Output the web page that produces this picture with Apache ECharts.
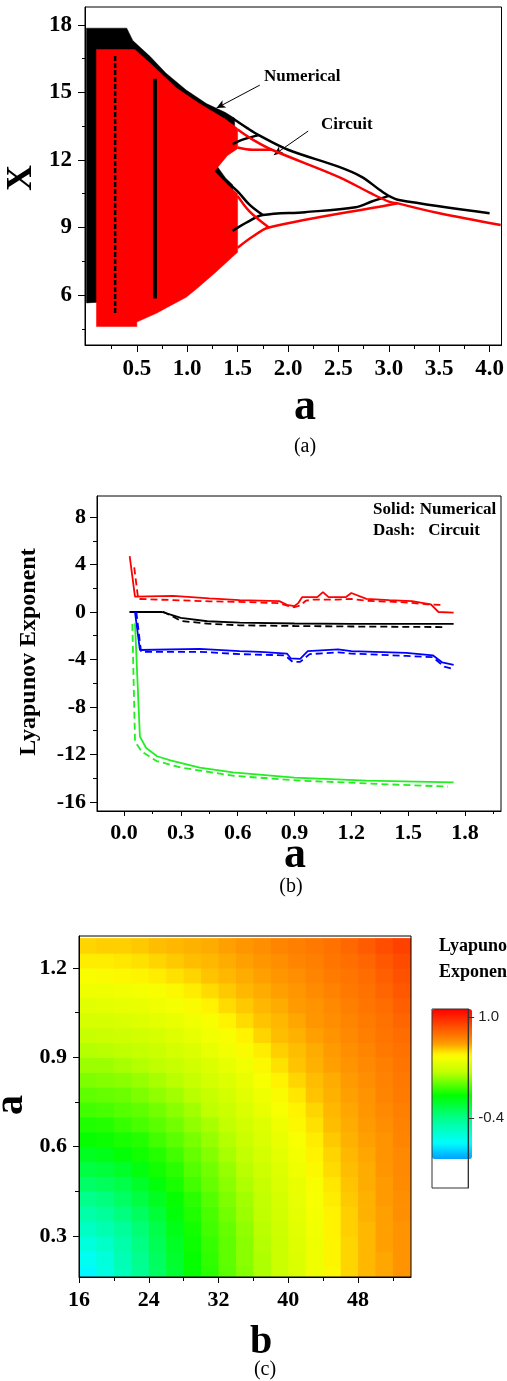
<!DOCTYPE html>
<html>
<head>
<meta charset="utf-8">
<title>Bifurcation, Lyapunov exponents and Lyapunov map</title>
<script src="https://cdn.jsdelivr.net/npm/echarts@6/dist/echarts.min.js"></script>
<style>
  html, body { margin: 0; padding: 0; background: #ffffff; }
  #chart { width: 507px; height: 1381px; }
</style>
</head>
<body>
<div id="chart"></div>
<script>
// ================= (a) bifurcation diagram: x versus a =================
// outline of the chaotic band, numerical system: [a, x]
const numBand = [
  [0.00, 17.85], [0.40, 17.85], [0.46, 17.3], [0.63, 16.6], [0.79, 15.85], [0.99, 15.1],
  [1.19, 14.5], [1.38, 14.1], [1.47, 13.85],
  [1.47, 12.8], [1.40, 12.3], [1.30, 11.7], [1.38, 11.2], [1.45, 10.9],
  [1.45, 8.85], [1.38, 8.3], [1.19, 7.6], [0.99, 7.0], [0.79, 6.5], [0.63, 6.0], [0.40, 5.75], [0.00, 5.65]
];
// outline of the chaotic band, circuit: [a, x]
const cirBand = [
  [0.10, 16.9], [0.48, 16.9], [0.63, 16.3], [0.89, 15.2], [1.12, 14.5], [1.38, 13.8], [1.50, 13.4],
  [1.50, 12.5], [1.40, 12.2], [1.27, 11.5], [1.40, 10.9], [1.50, 10.5],
  [1.50, 7.9], [1.45, 7.7], [1.28, 7.0], [1.10, 6.3], [0.99, 5.9], [0.80, 5.45], [0.70, 5.2],
  [0.60, 5.0], [0.50, 4.8], [0.50, 4.6], [0.10, 4.6]
];
// periodic windows inside the chaotic band (numerical)
const numWindowA = [[0.68, 5.85], [0.68, 15.6]];
const numWindowB = [[0.285, 5.2], [0.285, 16.7]];
// periodic branches, numerical
const numUpper = [[1.45, 13.85], [1.60, 13.4], [1.71, 13.1], [2.00, 12.45], [2.50, 11.7], [2.73, 11.25], [2.90, 10.7], [3.00, 10.4]];
const numUpperInner = [[1.45, 12.7], [1.55, 12.9], [1.71, 13.1]];
const numLower = [[1.45, 8.85], [1.60, 9.25], [1.75, 9.55], [2.17, 9.68], [2.67, 9.9], [2.83, 10.15], [3.00, 10.4]];
const numLowerInner = [[1.40, 11.0], [1.50, 10.6], [1.62, 10.0], [1.75, 9.55]];
const numSingle = [[3.00, 10.4], [3.10, 10.22], [4.00, 9.63]];
// periodic branches, circuit
const cirUpper = [[1.50, 13.35], [1.65, 12.9], [1.84, 12.45], [2.50, 11.25], [2.83, 10.5], [3.00, 10.15], [3.09, 10.07]];
const cirUpperInner = [[1.50, 12.55], [1.65, 12.45], [1.84, 12.45]];
const cirLower = [[1.50, 8.1], [1.65, 8.6], [1.81, 9.0], [3.00, 10.0], [3.09, 10.07]];
const cirLowerInner = [[1.50, 10.4], [1.62, 9.7], [1.81, 9.0]];
const cirSingle = [[3.09, 10.07], [3.49, 9.64], [4.11, 9.11]];
// annotation arrows: [from, to] in [a, x]
const arrowNumerical = [[1.72, 15.32], [1.29, 14.30]];
const arrowCircuit = [[2.20, 13.28], [1.86, 12.22]];
// ticks
const aTicksA = [0.5, 1.0, 1.5, 2.0, 2.5, 3.0, 3.5, 4.0];
const aMinorA = [0.25, 0.75, 1.25, 1.75, 2.25, 2.75, 3.25, 3.75];
const xTicksA = [6, 9, 12, 15, 18];
const xMinorA = [4.5, 7.5, 10.5, 13.5, 16.5];

// ================= (b) Lyapunov exponents versus a =================
const numLE1 = [[0.03, 4.7], [0.058, 1.3], [0.26, 1.35], [0.45, 1.15], [0.61, 1.0], [0.82, 0.92], [0.86, 0.6], [0.90, 0.5], [0.92, 0.75], [0.94, 1.25], [1.02, 1.25], [1.05, 1.68], [1.08, 1.25], [1.17, 1.25], [1.20, 1.6], [1.28, 1.1], [1.40, 1.0], [1.52, 0.92], [1.62, 0.65], [1.66, 0.0], [1.74, -0.05]];
const cirLE1 = [[0.054, 3.75], [0.075, 1.1], [0.26, 1.0], [0.45, 0.9], [0.61, 0.85], [0.82, 0.75], [0.87, 0.5], [0.90, 0.4], [0.93, 0.55], [0.96, 0.95], [1.00, 1.05], [1.13, 1.05], [1.20, 1.1], [1.28, 0.95], [1.50, 0.8], [1.60, 0.65], [1.67, 0.6]];
const numLE2 = [[0.03, 0], [0.20, 0], [0.25, -0.25], [0.30, -0.5], [0.44, -0.78], [0.61, -0.9], [0.90, -0.97], [1.20, -1.0], [1.74, -1.0]];
const cirLE2 = [[0.03, 0], [0.21, 0], [0.26, -0.4], [0.30, -0.75], [0.44, -0.98], [0.61, -1.12], [0.90, -1.18], [1.20, -1.22], [1.70, -1.27]];
const numLE3 = [[0.058, 0], [0.084, -3.2], [0.40, -3.1], [0.61, -3.3], [0.72, -3.35], [0.86, -3.5], [0.88, -3.9], [0.93, -3.95], [0.97, -3.3], [1.13, -3.15], [1.20, -3.3], [1.49, -3.45], [1.63, -3.65], [1.68, -4.25], [1.74, -4.45]];
const cirLE3 = [[0.065, 0], [0.09, -3.35], [0.40, -3.35], [0.61, -3.55], [0.85, -3.65], [0.89, -4.2], [0.93, -4.2], [0.98, -3.55], [1.13, -3.4], [1.20, -3.5], [1.49, -3.7], [1.63, -3.8], [1.69, -4.6], [1.74, -4.8]];
const numLE4 = [[0.058, -0.95], [0.084, -10.5], [0.117, -11.45], [0.175, -12.15], [0.245, -12.5], [0.40, -13.1], [0.575, -13.5], [0.90, -13.95], [1.28, -14.2], [1.74, -14.35]];
const cirLE4 = [[0.044, -1.0], [0.058, -10.9], [0.093, -11.75], [0.172, -12.55], [0.30, -13.1], [0.58, -13.8], [0.93, -14.2], [1.45, -14.55], [1.71, -14.7]];
const aTicksB = [0.0, 0.3, 0.6, 0.9, 1.2, 1.5, 1.8];
const aMinorB = [0.15, 0.45, 0.75, 1.05, 1.35, 1.65, 1.95];
const leTicksB = [-16, -12, -8, -4, 0, 4, 8];
const leMinorB = [-14, -10, -6, -2, 2, 6];

// ================= (c) largest Lyapunov exponent over (b, a) =================
const bCenters = [17, 19, 21, 23, 25, 27, 29, 31, 33, 35, 37, 39, 41, 43, 45, 47, 49, 51, 53];
const aCenters = [0.175, 0.225, 0.275, 0.325, 0.375, 0.425, 0.475, 0.525, 0.575, 0.625, 0.675, 0.725,
                  0.775, 0.825, 0.875, 0.925, 0.975, 1.025, 1.075, 1.125, 1.175, 1.225, 1.275];
// one row per a value (bottom to top), one entry per b value (left to right)
const lyapRows = [
  [-0.74,-0.64,-0.53,-0.41,-0.30,-0.19,-0.07,-0.01,0.07,0.14,0.21,0.28,0.34,0.41,0.47,0.54,0.59,0.62,0.66],
  [-0.69,-0.62,-0.51,-0.40,-0.29,-0.18,-0.07,0.00,0.08,0.15,0.21,0.28,0.34,0.41,0.48,0.54,0.59,0.62,0.66],
  [-0.63,-0.57,-0.48,-0.37,-0.27,-0.16,-0.06,0.01,0.08,0.15,0.22,0.28,0.35,0.41,0.48,0.54,0.59,0.63,0.66],
  [-0.55,-0.50,-0.43,-0.34,-0.24,-0.13,-0.05,0.03,0.09,0.16,0.23,0.29,0.36,0.42,0.49,0.55,0.59,0.63,0.66],
  [-0.47,-0.43,-0.36,-0.29,-0.20,-0.10,-0.03,0.04,0.11,0.18,0.24,0.30,0.37,0.43,0.49,0.55,0.60,0.63,0.67],
  [-0.39,-0.36,-0.30,-0.23,-0.15,-0.07,-0.01,0.06,0.13,0.19,0.25,0.31,0.38,0.44,0.50,0.56,0.60,0.64,0.67],
  [-0.31,-0.28,-0.24,-0.17,-0.10,-0.04,0.03,0.09,0.15,0.21,0.27,0.33,0.39,0.45,0.51,0.57,0.61,0.64,0.68],
  [-0.23,-0.21,-0.17,-0.11,-0.05,-0.01,0.06,0.11,0.17,0.23,0.29,0.35,0.41,0.47,0.53,0.58,0.61,0.65,0.69],
  [-0.15,-0.13,-0.09,-0.05,-0.02,0.03,0.09,0.14,0.20,0.25,0.31,0.37,0.43,0.49,0.54,0.59,0.62,0.66,0.69],
  [-0.07,-0.06,-0.04,-0.02,0.03,0.07,0.12,0.17,0.22,0.28,0.33,0.39,0.44,0.50,0.56,0.60,0.63,0.66,0.70],
  [-0.03,-0.02,0.01,0.04,0.07,0.11,0.16,0.20,0.25,0.30,0.35,0.41,0.47,0.52,0.58,0.61,0.64,0.67,0.71],
  [0.03,0.04,0.06,0.08,0.11,0.15,0.19,0.24,0.28,0.33,0.39,0.44,0.49,0.54,0.59,0.62,0.65,0.69,0.72],
  [0.08,0.09,0.10,0.13,0.16,0.19,0.23,0.27,0.31,0.36,0.41,0.46,0.51,0.57,0.60,0.63,0.66,0.70,0.73],
  [0.13,0.14,0.15,0.17,0.20,0.23,0.27,0.31,0.35,0.39,0.44,0.49,0.54,0.58,0.61,0.64,0.67,0.71,0.74],
  [0.18,0.18,0.20,0.22,0.24,0.27,0.30,0.34,0.38,0.42,0.47,0.52,0.57,0.60,0.63,0.66,0.69,0.72,0.75],
  [0.22,0.23,0.24,0.26,0.28,0.31,0.34,0.38,0.42,0.46,0.50,0.55,0.58,0.61,0.64,0.67,0.70,0.74,0.76],
  [0.27,0.28,0.29,0.30,0.32,0.35,0.38,0.42,0.45,0.49,0.54,0.58,0.60,0.63,0.66,0.69,0.72,0.75,0.78],
  [0.32,0.32,0.33,0.35,0.37,0.39,0.42,0.45,0.49,0.53,0.57,0.59,0.62,0.65,0.67,0.70,0.73,0.76,0.80],
  [0.36,0.37,0.38,0.39,0.41,0.43,0.46,0.49,0.53,0.56,0.59,0.61,0.64,0.66,0.69,0.72,0.75,0.78,0.82],
  [0.41,0.41,0.42,0.43,0.45,0.47,0.50,0.53,0.56,0.59,0.61,0.63,0.65,0.68,0.71,0.74,0.76,0.80,0.84],
  [0.45,0.46,0.47,0.48,0.50,0.52,0.54,0.57,0.59,0.61,0.63,0.65,0.67,0.70,0.73,0.75,0.78,0.82,0.86],
  [0.50,0.50,0.51,0.52,0.54,0.56,0.58,0.59,0.61,0.63,0.65,0.67,0.70,0.72,0.75,0.77,0.80,0.84,0.88],
  [0.54,0.55,0.55,0.56,0.58,0.59,0.60,0.61,0.63,0.65,0.67,0.70,0.72,0.74,0.76,0.79,0.83,0.87,0.91]
];
const bTicksC = [16, 24, 32, 40, 48];
const bMinorC = [20, 28, 36, 44, 52];
const aTicksC = [0.3, 0.6, 0.9, 1.2];
const aMinorC = [0.45, 0.75, 1.05];
const colorbarTicks = [1.0, -0.4];
// colour scale of the map: [exponent, colour]
const colorStops = [[-0.95, '#00a0ff'], [-0.73, '#00ffff'], [-0.40, '#00ff90'], [-0.08, '#00ff00'],
                    [0.24, '#c0ff00'], [0.47, '#ffff00'], [0.64, '#ff9900'], [1.11, '#ff0000']];

// ================= chart =================
const SERIF = "'Liberation Serif', 'Times New Roman', serif";
const SANS = "'Liberation Sans', Arial, sans-serif";

function hexToRgb(h) { return [1, 3, 5].map(i => parseInt(h.slice(i, i + 2), 16)); }
function colorAt(v) {
  const s = colorStops;
  if (v <= s[0][0]) return s[0][1];
  for (let i = 1; i < s.length; i++) {
    if (v <= s[i][0]) {
      const t = (v - s[i - 1][0]) / (s[i][0] - s[i - 1][0]);
      const c0 = hexToRgb(s[i - 1][1]), c1 = hexToRgb(s[i][1]);
      const c = c0.map((x, k) => Math.round(x + (c1[k] - x) * t));
      return `rgb(${c[0]},${c[1]},${c[2]})`;
    }
  }
  return s[s.length - 1][1];
}
const vMin = colorStops[0][0], vMax = colorStops[colorStops.length - 1][0];
// evenly spaced colour ramp for the visual map
const rampColors = [];
for (let i = 0; i <= 40; i++) rampColors.push(colorAt(vMin + (vMax - vMin) * i / 40));

function axisPair(dim, grid, min, max, major, minor, fmt, margin, fontSize, majorLen, minorLen) {
  const pos = dim === 'x' ? 'bottom' : 'left';
  return [
    { type: 'value', gridIndex: grid, min, max, position: pos, z: 10,
      axisLine: { show: true, onZero: false, lineStyle: { color: '#000', width: 1 } },
      axisTick: { show: true, length: majorLen, customValues: major, lineStyle: { color: '#000', width: 1 } },
      axisLabel: { show: true, customValues: major, formatter: fmt, margin,
                   fontFamily: SERIF, fontWeight: 'bold', fontSize, color: '#000' },
      splitLine: { show: false } },
    { type: 'value', gridIndex: grid, min, max, position: pos, z: 10,
      axisLine: { show: false, onZero: false },
      axisTick: { show: true, length: minorLen, customValues: minor, lineStyle: { color: '#000', width: 1 } },
      axisLabel: { show: false }, splitLine: { show: false } }
  ];
}

const fix1 = v => Number(v).toFixed(1);
const int0 = v => String(Math.round(v));

const xAxes = [
  ...axisPair('x', 0, -0.014, 4.118, aTicksA, aMinorA, fix1, 13, 23, 7, 4),
  ...axisPair('x', 1, -0.1425, 1.990, aTicksB, aMinorB, fix1, 11, 22, 5, 3),
  ...axisPair('x', 2, 16, 54.07, bTicksC, bMinorC, int0, 12, 22, 6, 4),
  { type: 'value', gridIndex: 3, min: 0, max: 1, show: false }
];
const yAxes = [
  ...axisPair('y', 0, 3.78, 18.79, xTicksA, xMinorA, int0, 13, 23, 7, 3),
  ...axisPair('y', 1, -16.76, 9.77, leTicksB, leMinorB, int0, 11, 22, 7, 4),
  ...axisPair('y', 2, 0.162, 1.307, aTicksC, aMinorC, fix1, 12, 22, 6, 4),
  { type: 'value', gridIndex: 3, min: -1.37, max: 1.11, position: 'right', z: 10,
    axisLine: { show: true, onZero: false, lineStyle: { color: '#333', width: 1 } },
    axisTick: { show: true, length: 6, customValues: colorbarTicks, lineStyle: { color: '#333', width: 1 } },
    axisLabel: { show: true, customValues: colorbarTicks, formatter: fix1, margin: 10,
                 fontFamily: SANS, fontSize: 15, color: '#222' },
    splitLine: { show: false } }
];

const gridBox = { show: true, borderColor: '#000', borderWidth: 1, backgroundColor: 'rgba(0,0,0,0)', z: 10 };
const grids = [
  { ...gridBox, left: 85, top: 7, width: 419, height: 338 },
  { ...gridBox, left: 97, top: 496, width: 404, height: 315 },
  { ...gridBox, left: 79, top: 936, width: 332, height: 341 },
  { ...gridBox, left: 432, top: 1009, width: 40, height: 179, borderColor: '#333' }
];

const series = [];

// filled chaotic band drawn from its outline
function bandSeries(outline, color, z) {
  return {
    type: 'custom', xAxisIndex: 0, yAxisIndex: 0, z, silent: true,
    data: outline, encode: { x: 0, y: 1 },
    renderItem(params, api) {
      if (params.dataIndex !== 0) return null;
      return { type: 'polygon', shape: { points: outline.map(p => api.coord(p)) },
               style: { fill: color, stroke: color, lineWidth: 0.5 } };
    }
  };
}
function pathSeries(data, axis, color, width, dash, z, smooth) {
  return {
    type: 'line', xAxisIndex: axis, yAxisIndex: axis, data, z, silent: true,
    showSymbol: false, symbol: 'none', smooth: smooth || false, clip: true,
    lineStyle: { color, width, type: dash || 'solid', cap: 'butt' }
  };
}

// (a)
series.push(bandSeries(numBand, '#000000', 2));
series.push(bandSeries(cirBand, '#ff0000', 3));
series.push(pathSeries(numWindowA, 0, '#000000', 4, 'solid', 4));
series.push(pathSeries(numWindowB, 0, '#000000', 2.5, [5, 2], 4));
[numUpper, numUpperInner, numLower, numLowerInner, numSingle].forEach(d =>
  series.push(pathSeries(d, 0, '#000000', 2.5, 'solid', 5, 0.35)));
[cirUpper, cirUpperInner, cirLower, cirLowerInner, cirSingle].forEach(d =>
  series.push(pathSeries(d, 0, '#ff0000', 2.5, 'solid', 6, 0.35)));
series.push({
  type: 'line', xAxisIndex: 0, yAxisIndex: 0, data: [], z: 8, silent: true,
  markLine: {
    silent: true, animation: false, symbol: ['none', 'arrow'], symbolSize: [6, 9],
    lineStyle: { color: '#000', width: 1, type: 'solid' }, label: { show: false },
    emphasis: { disabled: true },
    data: [
      [{ coord: arrowNumerical[0] }, { coord: arrowNumerical[1] }],
      [{ coord: arrowCircuit[0] }, { coord: arrowCircuit[1] }]
    ]
  }
});

// (b)
const leSets = [
  [numLE1, '#ff0000', 'solid'], [cirLE1, '#ff0000', [7, 4]],
  [numLE2, '#000000', 'solid'], [cirLE2, '#000000', [7, 4]],
  [numLE3, '#0000ff', 'solid'], [cirLE3, '#0000ff', [7, 4]],
  [numLE4, '#22ee22', 'solid'], [cirLE4, '#22ee22', [7, 4]]
];
leSets.forEach(([d, c, t]) => series.push(pathSeries(d, 2, c, 1.8, t, 3)));

// (c) map, one cell per (b, a) sample
const mapData = [];
aCenters.forEach((a, i) => bCenters.forEach((b, j) => mapData.push([b, a, lyapRows[i][j]])));
const halfB = (bCenters[1] - bCenters[0]) / 2;
const halfA = (aCenters[1] - aCenters[0]) / 2;
const mapIndex = series.length;
series.push({
  type: 'custom', xAxisIndex: 4, yAxisIndex: 4, z: 2, silent: true,
  data: mapData, encode: { x: 0, y: 1 },
  renderItem(params, api) {
    const b = api.value(0), a = api.value(1);
    const p0 = api.coord([b - halfB, a + halfA]);
    const p1 = api.coord([b + halfB, a - halfA]);
    const cs = params.coordSys;
    const rect = echarts.graphic.clipRectByRect(
      { x: p0[0], y: p0[1], width: p1[0] - p0[0] + 0.7, height: p1[1] - p0[1] + 0.7 },
      { x: cs.x, y: cs.y, width: cs.width, height: cs.height });
    if (!rect) return null;
    return { type: 'rect', shape: rect, style: { fill: api.visual('color') } };
  }
});

const txt = (x, y, text, font, align, valign, rot) => ({
  type: 'text', x, y, rotation: rot || 0, silent: true, z: 20,
  style: { text, font, fill: '#000', textAlign: align || 'center', textVerticalAlign: valign || 'middle' }
});

const option = {
  animation: false,
  backgroundColor: '#ffffff',
  grid: grids,
  xAxis: xAxes,
  yAxis: yAxes,
  visualMap: {
    type: 'continuous', seriesIndex: mapIndex, dimension: 2,
    min: vMin, max: vMax, calculable: false, hoverLink: false,
    left: 432, top: 1009, itemWidth: 40, itemHeight: 150, padding: 0,
    text: null, orient: 'vertical', inRange: { color: rampColors }
  },
  series,
  graphic: [
    txt(22, 178, 'X', `bold 36px ${SERIF}`, 'center', 'middle', Math.PI / 2),
    txt(305, 408, 'a', `bold 44px ${SERIF}`),
    txt(305, 447, '(a)', `20px ${SERIF}`),
    txt(264, 77, 'Numerical', `bold 17px ${SERIF}`, 'left'),
    txt(321, 125, 'Circuit', `bold 17px ${SERIF}`, 'left'),

    txt(29, 652, 'Lyapunov Exponent', `bold 24px ${SERIF}`, 'center', 'middle', Math.PI / 2),
    txt(373, 510, 'Solid: Numerical', `bold 17px ${SERIF}`, 'left'),
    txt(373, 531, 'Dash:   Circuit', `bold 17px ${SERIF}`, 'left'),
    txt(295, 856, 'a', `bold 44px ${SERIF}`),
    txt(291, 887, '(b)', `20px ${SERIF}`),

    txt(12, 1105, 'a', `bold 40px ${SERIF}`, 'center', 'middle', Math.PI / 2),
    txt(261, 1343, 'b', `bold 40px ${SERIF}`),
    txt(265, 1370, '(c)', `20px ${SERIF}`),
    txt(439, 946, 'Lyapunov', `bold 18px ${SERIF}`, 'left'),
    txt(439, 972, 'Exponent', `bold 18px ${SERIF}`, 'left')
  ]
};

const chart = echarts.init(document.getElementById('chart'), null, { renderer: 'canvas' });
chart.setOption(option);
</script>
</body>
</html>
